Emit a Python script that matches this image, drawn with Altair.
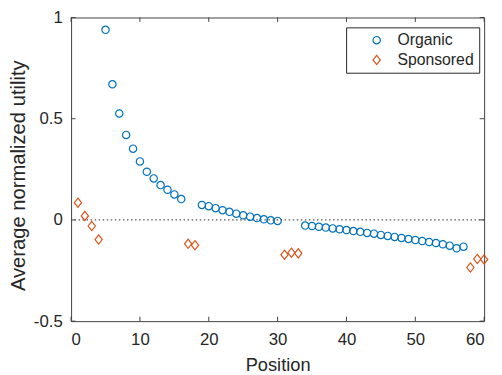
import altair as alt
import pandas as pd

organic_pos = [5, 6, 7, 8, 9, 10, 11, 12, 13, 14, 15, 16,
               19, 20, 21, 22, 23, 24, 25, 26, 27, 28, 29, 30,
               34, 35, 36, 37, 38, 39, 40, 41, 42, 43, 44, 45, 46, 47, 48, 49, 50,
               51, 52, 53, 54, 55, 56, 57]
organic_val = [0.939, 0.670, 0.526, 0.420, 0.352, 0.289, 0.238, 0.205, 0.172, 0.149, 0.126, 0.103,
               0.074, 0.068, 0.058, 0.048, 0.040, 0.031, 0.023, 0.016, 0.009, 0.003, -0.002, -0.005,
               -0.028, -0.030, -0.034, -0.038, -0.042, -0.046, -0.050, -0.055, -0.059, -0.064,
               -0.068, -0.074, -0.079, -0.084, -0.089, -0.094, -0.099, -0.104, -0.109, -0.114,
               -0.120, -0.127, -0.140, -0.132]
sponsored_pos = [1, 2, 3, 4, 17, 18, 31, 32, 33, 58, 59, 60]
sponsored_val = [0.085, 0.020, -0.030, -0.097, -0.118, -0.125, -0.172, -0.162, -0.165, -0.235, -0.193, -0.195]

series = ["Organic", "Sponsored"]
x_ticks = [0, 10, 20, 30, 40, 50, 60]
y_ticks = [-0.5, 0, 0.5, 1]

W, H = 419, 308
FONT = "Liberation Sans"
TXT = "#262626"
AX = "#404040"

df = pd.DataFrame({
    "Position": organic_pos + sponsored_pos,
    "Utility": organic_val + sponsored_val,
    "type": [series[0]] * len(organic_pos) + [series[1]] * len(sponsored_pos),
})

xscale = alt.Scale(domain=[0, 60], nice=False, zero=False)
yscale = alt.Scale(domain=[-0.5, 1], nice=False, zero=False)

diamond = "M0,-1.26L0.99,0L0,1.26L-0.99,0Z"

points = alt.Chart(df).mark_point(filled=False, strokeWidth=1.2, size=55, opacity=1).encode(
    x=alt.X("Position:Q", scale=xscale,
            axis=alt.Axis(values=x_ticks, title="Position", domain=False, ticks=False,
                          grid=False, labelPadding=11, titlePadding=8, format="d",
                          titleFontSize=18.5)),
    y=alt.Y("Utility:Q", scale=yscale,
            axis=alt.Axis(values=y_ticks, title="Average normalized utility", domain=False,
                          ticks=False, grid=False, labelPadding=9, titlePadding=5,
                          titleFontSize=20.5, titleY=160,
                          labelExpr="toString(datum.value)")),
    color=alt.Color("type:N", scale=alt.Scale(domain=series, range=["#0072BD", "#D95319"]),
                    legend=alt.Legend(title=None, orient="none", legendX=279, legendY=10,
                                      strokeColor="#262626", fillColor="white", padding=5,
                                      labelFontSize=16, labelFont=FONT, labelColor=TXT,
                                      symbolSize=55, symbolStrokeWidth=1.2, rowPadding=4,
                                      labelOffset=13, symbolOffset=18)),
    shape=alt.Shape("type:N", scale=alt.Scale(domain=series, range=["circle", diamond])),
)

zero = alt.Chart(pd.DataFrame({"y": [0]})).mark_rule(
    color="#555555", strokeDash=[1.5, 2.6], strokeWidth=1.2
).encode(y=alt.Y("y:Q", scale=yscale))

xt = pd.DataFrame({"t": x_ticks})
yt = pd.DataFrame({"t": y_ticks})
tick_style = dict(color=AX, strokeWidth=1)
bx = alt.Chart(xt).mark_rule(**tick_style).encode(
    x=alt.X("t:Q", scale=xscale), y=alt.value(H), y2=alt.value(H - 4.5))
tx = alt.Chart(xt).mark_rule(**tick_style).encode(
    x=alt.X("t:Q", scale=xscale), y=alt.value(0), y2=alt.value(4.5))
ly = alt.Chart(yt).mark_rule(**tick_style).encode(
    y=alt.Y("t:Q", scale=yscale), x=alt.value(0), x2=alt.value(4.5))
ry = alt.Chart(yt).mark_rule(**tick_style).encode(
    y=alt.Y("t:Q", scale=yscale), x=alt.value(W), x2=alt.value(W - 4.5))

chart = alt.layer(zero, bx, tx, ly, ry, points).properties(
    width=W, height=H,
    autosize=alt.AutoSizeParams(type="none"),
    padding={"left": 64, "top": 7, "right": 10, "bottom": 52},
    background="white",
).configure_view(
    stroke=AX, strokeWidth=1
).configure_axis(
    labelFont=FONT, titleFont=FONT, labelFontSize=17,
    labelColor=TXT, titleColor=TXT, titleFontWeight="normal"
)

chart.save("out.html", embed_options={"renderer": "svg", "actions": False})
